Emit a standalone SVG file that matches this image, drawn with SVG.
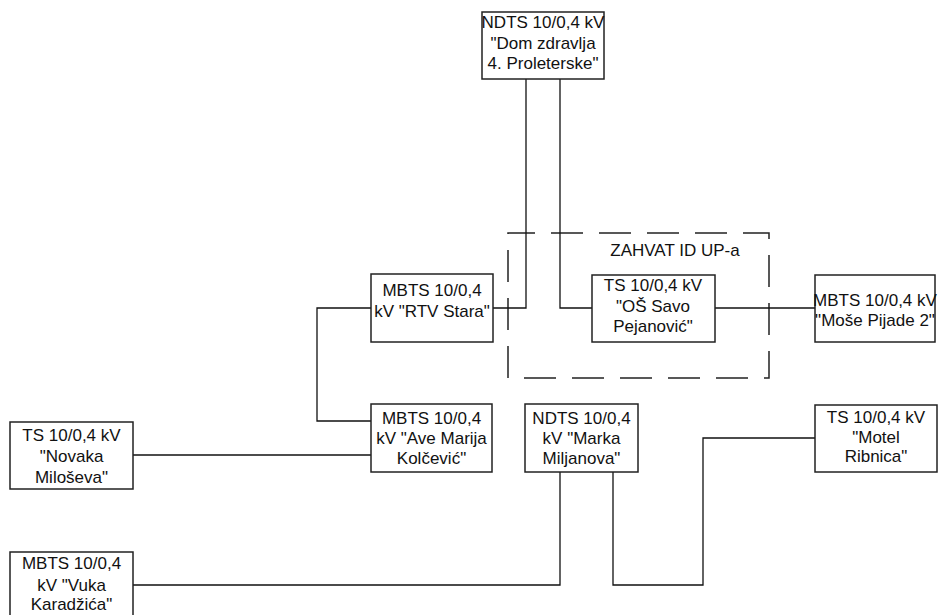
<svg xmlns="http://www.w3.org/2000/svg" width="938" height="615" viewBox="0 0 938 615">
<style>
.box{fill:#fff;stroke:#222;stroke-width:1.5}
.ln{fill:none;stroke:#111;stroke-width:1.3}
.dash{fill:none;stroke:#222;stroke-width:1.5;stroke-dasharray:32 16;stroke-dashoffset:5}
text{font-family:"Liberation Sans",Arial,sans-serif;font-size:17px;fill:#111;text-anchor:middle}
</style>
<rect width="938" height="615" fill="#fff"/>
<g id="zone">
<path class="dash" d="M508,233 H769 V378 H508 Z"/>
<text x="675" y="256">ZAHVAT ID UP-a</text>
</g>
<g id="connectors">
<polyline class="ln" points="526,79 526,308 493,308"/>
<polyline class="ln" points="560,79 560,308 592,308"/>
<polyline class="ln" points="715,308 815,308"/>
<polyline class="ln" points="371,308 317,308 317,421 371,421"/>
<polyline class="ln" points="133,455 371,455"/>
<polyline class="ln" points="560,472 560,585 133,585"/>
<polyline class="ln" points="613,472 613,585 703,585 703,438 815,438"/>
</g>
<g id="n-dom">
<rect class="box" x="482" y="12" width="122" height="67"/>
<text x="543" y="28">NDTS 10/0,4 kV</text>
<text x="543" y="49">"Dom zdravlja</text>
<text x="543" y="69">4. Proleterske"</text>
</g>
<g id="n-rtv">
<rect class="box" x="371" y="274" width="122" height="68"/>
<text x="432" y="296">MBTS 10/0,4</text>
<text x="432" y="317">kV "RTV Stara"</text>
</g>
<g id="n-os">
<rect class="box" x="592" y="275" width="123" height="67"/>
<text x="653" y="291">TS 10/0,4 kV</text>
<text x="653" y="312">"OŠ Savo</text>
<text x="653" y="332">Pejanović"</text>
</g>
<g id="n-mose">
<rect class="box" x="815" y="275" width="120" height="67"/>
<text x="875" y="306">MBTS 10/0,4 kV</text>
<text x="875" y="326">"Moše Pijade 2"</text>
</g>
<g id="n-novaka">
<rect class="box" x="10" y="422" width="123" height="67"/>
<text x="71.5" y="441">TS 10/0,4 kV</text>
<text x="71.5" y="462">"Novaka</text>
<text x="71.5" y="483">Miloševa"</text>
</g>
<g id="n-ave">
<rect class="box" x="371" y="404" width="121" height="68"/>
<text x="431.5" y="424">MBTS 10/0,4</text>
<text x="431.5" y="444">kV "Ave Marija</text>
<text x="431.5" y="464">Kolčević"</text>
</g>
<g id="n-marka">
<rect class="box" x="525" y="404" width="113" height="68"/>
<text x="581.5" y="424">NDTS 10/0,4</text>
<text x="581.5" y="444">kV "Marka</text>
<text x="581.5" y="464">Miljanova"</text>
</g>
<g id="n-motel">
<rect class="box" x="815" y="405" width="122" height="67"/>
<text x="876" y="423">TS 10/0,4 kV</text>
<text x="876" y="443">"Motel</text>
<text x="876" y="462">Ribnica"</text>
</g>
<g id="n-vuka">
<rect class="box" x="10" y="552" width="123" height="70"/>
<text x="71.5" y="569">MBTS 10/0,4</text>
<text x="71.5" y="591">kV "Vuka</text>
<text x="71.5" y="610">Karadžića"</text>
</g>
</svg>
